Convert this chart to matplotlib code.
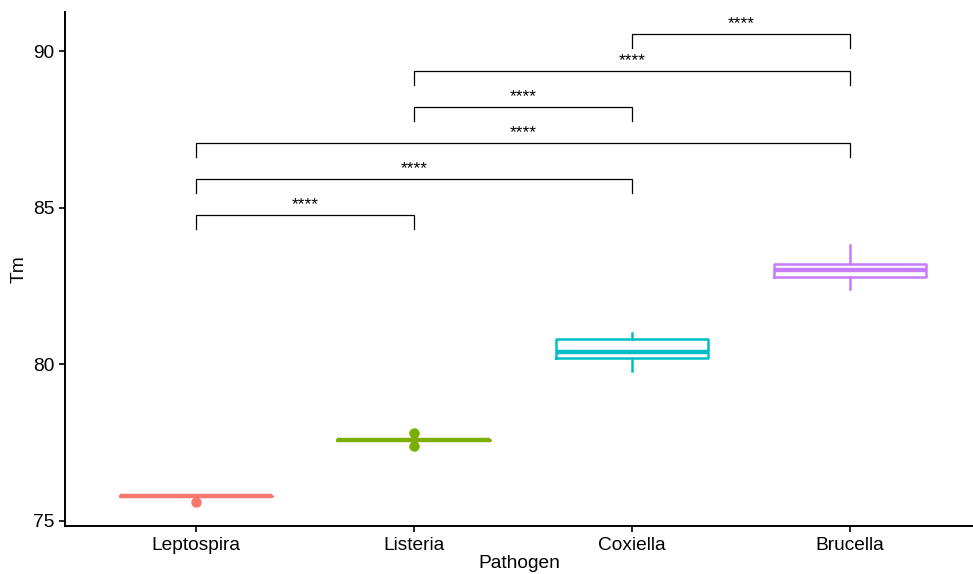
import matplotlib
matplotlib.use("Agg")
import matplotlib.pyplot as plt

plt.rcParams['font.family'] = ['Liberation Sans', 'DejaVu Sans']

categories = ["Leptospira", "Listeria", "Coxiella", "Brucella"]
colors = ["#F8766D", "#7CAE00", "#00BFC4", "#C77CFF"]
q1 = [75.8, 77.6, 80.2, 82.8]
med = [75.8, 77.6, 80.4, 83.0]
q3 = [75.8, 77.6, 80.8, 83.2]
whislo = [75.8, 77.6, 79.8, 82.4]
whishi = [75.8, 77.6, 81.0, 83.8]
fliers = [[75.6], [77.4, 77.8], [], []]

# comparisons (group indices, 1-based) and bracket heights
comp_a = [1, 1, 1, 2, 2, 3]
comp_b = [2, 3, 4, 3, 4, 4]
comp_y = [84.77, 85.92, 87.07, 88.22, 89.37, 90.54]
comp_lab = ["****"] * 6
tip = 0.45

fig = plt.figure(figsize=(9.73, 5.74), dpi=100)
ax = fig.add_axes([65/973, 1-526/574, 908/973, 514/574])

for i in range(4):
    st = [dict(med=med[i], q1=q1[i], q3=q3[i], whislo=whislo[i], whishi=whishi[i],
               fliers=fliers[i])]
    c = colors[i]
    ax.bxp(st, positions=[i+1], widths=0.7, showcaps=False, patch_artist=False,
           boxprops=dict(color=c, linewidth=1.8),
           whiskerprops=dict(color=c, linewidth=1.8),
           medianprops=dict(color=c, linewidth=3.2, solid_capstyle='butt'),
           flierprops=dict(marker='o', markerfacecolor=c, markeredgecolor=c,
                           markersize=6.5, linestyle='none'),
           manage_ticks=False)

for a, b, y, lab in zip(comp_a, comp_b, comp_y, comp_lab):
    ax.plot([a, a, b, b], [y - tip, y, y, y - tip], color='black', linewidth=0.9,
            solid_joinstyle='miter')
    ax.text((a + b) / 2, y + 0.08, lab, ha='center', va='bottom', fontsize=12.5)

ax.set_xlim(0.4, 0.4 + 908/218)
ax.set_ylim(74.84, 91.245)
ax.set_xticks([1, 2, 3, 4])
ax.set_xticklabels(categories)
ax.set_yticks([75, 80, 85, 90])
ax.tick_params(axis='both', labelsize=13.8, length=4, width=1.2, color='black',
               labelcolor='black')
ax.tick_params(axis='x', pad=4)
ax.spines['top'].set_visible(False)
ax.spines['right'].set_visible(False)
for s in ['left', 'bottom']:
    ax.spines[s].set_linewidth(1.4)
ax.set_xlabel("Pathogen", fontsize=13.8, labelpad=1)
ax.set_ylabel("Tm", fontsize=13.8, labelpad=4)

fig.savefig("out.png", dpi=100)
